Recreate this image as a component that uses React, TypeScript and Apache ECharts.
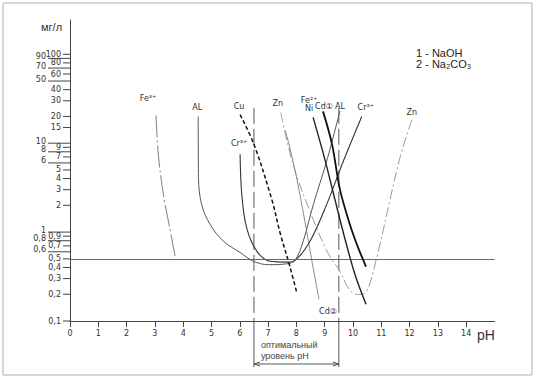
import React, { useEffect, useRef } from 'react';
import * as echarts from 'echarts';

// ---- axes / ticks ----
const xTicks = [0, 1, 2, 3, 4, 5, 6, 7, 8, 9, 10, 11, 12, 13, 14];
const xMin = 0;
const xMax = 15;
const yTicksShort = [100, 80, 60, 40, 30, 20, 15, 9, 7, 5, 4, 3, 2, 0.9, 0.7, 0.5, 0.4, 0.3, 0.2, 0.1];
const yTicksLong = [90, 70, 50, 10, 8, 6, 1, 0.8, 0.6];
const yMin = 0.1;
const yMax = 243;
const limitValue = 0.5;
const optimumRange = [6.5, 9.5];
const optimumTop = 25;

// ---- curves (pH, mg/l) ----
const fe3Ph = [3.04, 3.12, 3.3, 3.5, 3.73];
const fe3Val = [20.5, 7.5, 2.65, 1.22, 0.5];

const alPh = [4.53, 4.54, 4.65, 4.95, 5.42, 6.01, 6.48, 7.01, 7.66, 7.95, 8.24, 8.6, 9.07, 9.54];
const alVal = [20, 4.1, 2.05, 1.22, 0.79, 0.59, 0.47, 0.43, 0.44, 0.48, 0.79, 2.05, 6.3, 23];

const cuPh = [6.01, 6.5, 7.13, 7.42, 7.77, 8.01];
const cuVal = [21, 9.7, 2.33, 0.99, 0.41, 0.21];

const crPh = [6.01, 6.07, 6.24, 6.6, 7.07, 7.66, 7.95, 8.48, 9.07, 9.66, 10.31];
const crVal = [7.5, 2.65, 1.12, 0.61, 0.47, 0.46, 0.48, 0.79, 2.05, 6.3, 20];

const znPh = [7.45, 7.88, 8.48, 9.08, 9.54, 9.89, 10.18, 10.46, 10.84, 11.31, 11.66, 12.08];
const znVal = [22, 5.8, 1.71, 0.61, 0.36, 0.221, 0.199, 0.21, 0.52, 2.33, 6.9, 18.5];

const feNiPh = [8.59, 9.01, 9.36, 9.72, 10.07, 10.46];
const feNiVal = [19.5, 6.5, 2.33, 0.83, 0.334, 0.154];

const cd1Ph = [8.94, 9.26, 9.54, 9.89, 10.18, 10.46];
const cd1Val = [22.8, 9.7, 3.0, 1.22, 0.67, 0.41];

const cd2Ph = [7.6, 7.74, 8.02, 8.3, 8.55, 8.8];
const cd2Val = [14, 9.7, 3.9, 1.32, 0.47, 0.175];

const FONT = 'DejaVu Sans, Liberation Sans, sans-serif';
const SANS = 'Liberation Sans, Arial, DejaVu Sans, sans-serif';

type Lbl = { at: number; text: string; pos: string; offset: number[] };
type Curve = { name: string; ph: number[]; val: number[]; color: string; width: number; dash: any; labels: Lbl[]; z: number };

const curves: Curve[] = [
  { name: 'Fe3+', ph: fe3Ph, val: fe3Val, color: '#8a8a8a', width: 1.1, dash: [22, 3, 2, 3], z: 3,
    labels: [{ at: 0, text: 'Fe³⁺', pos: 'top', offset: [-8, -8] }] },
  { name: 'Al', ph: alPh, val: alVal, color: '#555555', width: 1, dash: 'solid', z: 3,
    labels: [{ at: 0, text: 'AL', pos: 'top', offset: [-1, 0] }, { at: -1, text: 'AL', pos: 'top', offset: [0, 4] }] },
  { name: 'Cu', ph: cuPh, val: cuVal, color: '#111111', width: 1.5, dash: [4, 2.5], z: 4,
    labels: [{ at: 0, text: 'Cu', pos: 'top', offset: [-1, 1] }] },
  { name: 'Cr3+', ph: crPh, val: crVal, color: '#333333', width: 1.1, dash: 'solid', z: 3,
    labels: [{ at: 0, text: 'Cr³⁺', pos: 'top', offset: [-1, -2] }, { at: -1, text: 'Cr³⁺', pos: 'top', offset: [4, 0] }] },
  { name: 'Zn', ph: znPh, val: znVal, color: '#9a9a9a', width: 1, dash: [10, 3, 2, 3], z: 2,
    labels: [{ at: 0, text: 'Zn', pos: 'top', offset: [-3, 0] }, { at: -1, text: 'Zn', pos: 'top', offset: [0, 2] }] },
  { name: 'Fe2+ Ni', ph: feNiPh, val: feNiVal, color: '#222222', width: 1.4, dash: 'solid', z: 5,
    labels: [{ at: 0, text: 'Fe²⁺\nNi', pos: 'top', offset: [-4, 0] }] },
  { name: 'Cd1', ph: cd1Ph, val: cd1Val, color: '#111111', width: 1.8, dash: 'solid', z: 6,
    labels: [{ at: 0, text: 'Cd①', pos: 'top', offset: [1, 4] }] },
  { name: 'Cd2', ph: cd2Ph, val: cd2Val, color: '#8c8c8c', width: 1, dash: 'solid', z: 2,
    labels: [{ at: -1, text: 'Cd②', pos: 'bottom', offset: [9, 3] }] },
];

const fmt = (v: number) => String(v).replace('.', ',');

export default function App() {
  const ref = useRef<HTMLDivElement>(null);

  useEffect(() => {
    if (!ref.current) return;
    const chart = echarts.init(ref.current, null, { renderer: 'svg' });

    const lineSeries = curves.map((c) => ({
      type: 'line',
      name: c.name,
      z: c.z,
      smooth: 0.35,
      symbol: 'circle',
      symbolSize: 0,
      showSymbol: true,
      silent: true,
      lineStyle: { color: c.color, width: c.width, type: c.dash },
      itemStyle: { color: c.color },
      label: { show: false },
      data: c.ph.map((p, i) => {
        const item: any = { value: [p, c.val[i]] };
        const l = c.labels.find((lb) => (lb.at < 0 ? c.ph.length + lb.at : lb.at) === i);
        if (l) {
          item.label = {
            show: true,
            formatter: l.text,
            position: l.pos,
            distance: 5,
            offset: l.offset,
            fontSize: 8,
            lineHeight: 8,
            color: '#333',
            fontFamily: FONT,
          };
        }
        return item;
      }),
    }));

    // 0.5 mg/l limit line attached to the first curve
    (lineSeries[0] as any).markLine = {
      silent: true,
      symbol: ['none', 'none'],
      label: { show: false },
      lineStyle: { color: '#666', width: 1, type: 'solid' },
      data: [{ yAxis: limitValue }],
    };

    const tickData = [
      ...yTicksShort.map((v) => [0, v, 0]),
      ...yTicksLong.map((v) => [0, v, 1]),
    ];

    const option: any = {
      animation: false,
      backgroundColor: '#ffffff',
      textStyle: { fontFamily: FONT },
      grid: { left: 70, right: 41.5, top: 20, bottom: 58, containLabel: false, outerBoundsMode: 'none' },
      xAxis: {
        type: 'value',
        min: xMin,
        max: xMax,
        interval: 1,
        axisLine: { lineStyle: { color: '#444', width: 1 } },
        axisTick: { show: true, length: 6, customValues: xTicks, lineStyle: { color: '#444' } },
        axisLabel: {
          customValues: xTicks,
          fontSize: 8,
          color: '#333',
          margin: 8,
          fontFamily: FONT,
          formatter: (v: number) => (v > 14 ? '' : String(v)),
        },
        splitLine: { show: false },
      },
      yAxis: {
        type: 'log',
        logBase: 10,
        min: yMin,
        max: yMax,
        axisLine: { show: true, lineStyle: { color: '#444', width: 1 } },
        axisTick: { show: false },
        axisLabel: { show: false },
        splitLine: { show: false },
        minorTick: { show: false },
      },
      graphic: [
        { type: 'rect', shape: { x: 3, y: 3, width: 529, height: 372 }, style: { fill: 'none', stroke: '#b0b0b0', lineWidth: 1 }, silent: true },
        { type: 'text', x: 41, y: 27, style: { text: 'мг/л', fontSize: 11, fill: '#333', fontFamily: SANS, verticalAlign: 'middle' } },
        { type: 'text', x: 477, y: 335, style: { text: 'pH', fontSize: 14, fill: '#333', fontFamily: SANS, verticalAlign: 'middle' } },
        { type: 'text', x: 416, y: 53, style: { text: '1 - NaOH', fontSize: 11, fill: '#222', fontFamily: SANS, verticalAlign: 'middle' } },
        { type: 'text', x: 416, y: 64, style: { text: '2 - Na₂CO₃', fontSize: 11, fill: '#222', fontFamily: SANS, verticalAlign: 'middle' } },
      ],
      series: [
        ...lineSeries,
        {
          type: 'custom',
          name: 'yTicks',
          coordinateSystem: 'cartesian2d',
          silent: true,
          clip: false,
          encode: { x: 0, y: 1 },
          data: tickData,
          renderItem: (_params: any, api: any) => {
            const v = api.value(1);
            const long = api.value(2) === 1;
            const p = api.coord([0, v]);
            const len = long ? 22 : 7;
            return {
              type: 'group',
              children: [
                { type: 'line', shape: { x1: p[0] - len, y1: p[1], x2: p[0], y2: p[1] }, style: { stroke: '#444', lineWidth: 1 } },
                {
                  type: 'text',
                  style: {
                    text: fmt(v),
                    x: p[0] - len - 2,
                    y: p[1] - (long ? 2 : 0),
                    align: 'right',
                    verticalAlign: 'middle',
                    fontSize: 8,
                    fill: '#333',
                    fontFamily: FONT,
                  },
                },
              ],
            };
          },
        },
        {
          type: 'custom',
          name: 'optimum',
          coordinateSystem: 'cartesian2d',
          silent: true,
          clip: false,
          encode: { x: [0, 1], y: 2 },
          data: [[optimumRange[0], optimumRange[1], optimumTop]],
          renderItem: (_params: any, api: any) => {
            const a = api.coord([api.value(0), api.value(2)]);
            const a0 = api.coord([api.value(0), yMin]);
            const b = api.coord([api.value(1), api.value(2)]);
            const b0 = api.coord([api.value(1), yMin]);
            const below = 46;
            const by = a0[1] + 43;
            const stroke = '#555';
            return {
              type: 'group',
              children: [
                { type: 'line', shape: { x1: a[0], y1: a[1], x2: a0[0], y2: a0[1] }, style: { stroke, lineWidth: 1, lineDash: [16, 5] } },
                { type: 'line', shape: { x1: b[0], y1: b[1], x2: b0[0], y2: b0[1] }, style: { stroke, lineWidth: 1, lineDash: [16, 5] } },
                { type: 'line', shape: { x1: a0[0], y1: a0[1], x2: a0[0], y2: a0[1] + below }, style: { stroke, lineWidth: 1 } },
                { type: 'line', shape: { x1: b0[0], y1: b0[1], x2: b0[0], y2: b0[1] + below }, style: { stroke, lineWidth: 1 } },
                { type: 'line', shape: { x1: a0[0], y1: by, x2: b0[0], y2: by }, style: { stroke, lineWidth: 1 } },
                { type: 'polyline', shape: { points: [[a0[0] + 6, by - 2], [a0[0], by], [a0[0] + 6, by + 2]] }, style: { stroke, fill: 'none', lineWidth: 1 } },
                { type: 'polyline', shape: { points: [[b0[0] - 6, by - 2], [b0[0], by], [b0[0] - 6, by + 2]] }, style: { stroke, fill: 'none', lineWidth: 1 } },
                {
                  type: 'text',
                  style: {
                    text: 'оптимальный\nуровень pH',
                    x: a0[0] + 7,
                    y: a0[1] + 18,
                    align: 'left',
                    verticalAlign: 'top',
                    fontSize: 9,
                    lineHeight: 11,
                    fill: '#444',
                    fontFamily: SANS,
                  },
                },
              ],
            };
          },
        },
      ],
    };

    chart.setOption(option);
    return () => chart.dispose();
  }, []);

  return (
    <div
      ref={ref}
      style={{ position: 'fixed', left: 0, top: 0, width: 536, height: 379, background: '#fff' }}
    />
  );
}
